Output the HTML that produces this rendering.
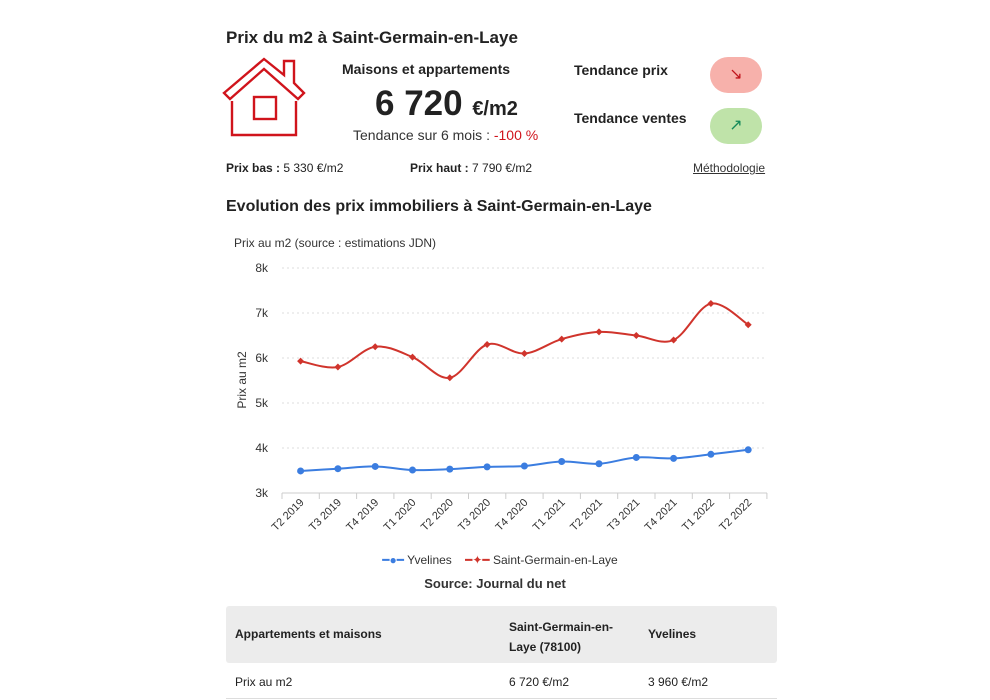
<!DOCTYPE html>
<html><head><meta charset="utf-8"><style>
body{margin:0;width:990px;height:700px;background:#fff;font-family:"Liberation Sans",sans-serif;color:#222;position:relative;overflow:hidden}
.a{position:absolute;white-space:nowrap}
.b{font-weight:bold}
</style></head><body>
<div class="a b" style="left:226px;top:28px;font-size:17px">Prix du m2 à Saint-Germain-en-Laye</div>
<svg class="a" style="left:222px;top:55px" width="86" height="84" viewBox="0 0 86 84">
<g fill="none" stroke="#d0141c" stroke-width="2.4">
<path d="M2 38 L42 4 L62 20 L62 6 L72 6 L72 28 L82 38 L76 44 L42 14 L8 44 Z"/>
<path d="M42 14 L42 14"/>
<path d="M10 46 L10 80 L74 80 L74 46"/>
<rect x="32" y="42" width="22" height="22"/>
</g></svg>
<div class="a b" style="left:342px;top:61px;font-size:14px">Maisons et appartements</div>
<div class="a b" style="left:375px;top:84px;font-size:35px;color:#222">6 720 <span style="font-size:20px">€/m2</span></div>
<div class="a" style="left:353px;top:127px;font-size:14px;color:#333">Tendance sur 6 mois : <span style="color:#d0141c">-100 %</span></div>
<div class="a b" style="left:574px;top:62px;font-size:14px">Tendance prix</div>
<div class="a b" style="left:574px;top:110px;font-size:14px">Tendance ventes</div>
<div class="a" style="left:710px;top:57px;width:52px;height:36px;border-radius:18px;background:#f7b1ab;color:#c0141c;text-align:center;line-height:36px;font-size:16px">↘</div>
<div class="a" style="left:710px;top:108px;width:52px;height:36px;border-radius:18px;background:#bfe3a9;color:#158a5a;text-align:center;line-height:36px;font-size:16px">↗</div>
<div class="a" style="left:226px;top:161px;font-size:12px"><b>Prix bas :</b> 5 330 €/m2</div>
<div class="a" style="left:410px;top:161px;font-size:12px"><b>Prix haut :</b> 7 790 €/m2</div>
<div class="a" style="left:693px;top:161px;font-size:12px;text-decoration:underline;color:#333">Méthodologie</div>
<div class="a b" style="left:226px;top:198px;font-size:16px">Evolution des prix immobiliers à Saint-Germain-en-Laye</div>
<div class="a" style="left:234px;top:236px;font-size:12px;color:#333">Prix au m2 (source : estimations JDN)</div>
<svg id="c" class="a" style="left:0;top:0" width="990" height="560"></svg>
<div class="a" style="left:0;top:553px;width:1000px;text-align:center;font-size:12px;color:#333"><span style="color:#3b7de0">━●━</span> Yvelines &nbsp;&nbsp; <span style="color:#d0342c">━✦━</span> Saint-Germain-en-Laye</div>
<div class="a b" style="left:0;top:576px;width:990px;text-align:center;font-size:13px;color:#333">Source: Journal du net</div>
<div class="a" style="left:226px;top:606px;width:551px;height:57px;background:#ececec;border-radius:3px"></div>
<div class="a b" style="left:235px;top:627px;font-size:12px">Appartements et maisons</div>
<div class="a b" style="left:509px;top:617px;font-size:12px;line-height:20px">Saint-Germain-en-<br>Laye (78100)</div>
<div class="a b" style="left:648px;top:627px;font-size:12px">Yvelines</div>
<div class="a" style="left:235px;top:675px;font-size:12px">Prix au m2</div>
<div class="a" style="left:509px;top:675px;font-size:12px">6 720 €/m2</div>
<div class="a" style="left:648px;top:675px;font-size:12px">3 960 €/m2</div>
<div class="a" style="left:226px;top:698px;width:551px;height:1px;background:#ddd"></div>
<script>
var s='',X=i=>300.6+i*37.3,Y=v=>493-(v-3000)*0.045;
for(var k=3;k<=8;k++){var y=Y(k*1000);if(k>3)s+='<line x1="282" x2="767" y1="'+y+'" y2="'+y+'" stroke="#ddd" stroke-dasharray="2,3"/>';s+='<text x="268" y="'+(y+4)+'" font-size="12" text-anchor="end" fill="#333" font-family="Liberation Sans">'+k+'k</text>';}
s+='<line x1="282" x2="767" y1="493" y2="493" stroke="#ccc"/>';
var L=['T2 2019','T3 2019','T4 2019','T1 2020','T2 2020','T3 2020','T4 2020','T1 2021','T2 2021','T3 2021','T4 2021','T1 2022','T2 2022'];
for(var i=0;i<=13;i++){var x=282+i*37.3;s+='<line x1="'+x+'" x2="'+x+'" y1="493" y2="499" stroke="#ccc"/>';}
L.forEach((l,i)=>{var x=X(i)+4,y=503;s+='<text transform="translate('+x+','+y+') rotate(-45)" font-size="11" text-anchor="end" fill="#333" font-family="Liberation Sans">'+l+'</text>';});
s+='<text transform="translate(246,380) rotate(-90)" font-size="12" text-anchor="middle" fill="#333" font-family="Liberation Sans">Prix au m2</text>';
function path(v){var p=v.map((a,i)=>[X(i),Y(a)]),d='M'+p[0];for(var i=0;i<p.length-1;i++){var p0=p[i-1]||p[i],p1=p[i],p2=p[i+1],p3=p[i+2]||p2;d+=' C'+(p1[0]+(p2[0]-p0[0])/6)+','+(p1[1]+(p2[1]-p0[1])/6)+' '+(p2[0]-(p3[0]-p1[0])/6)+','+(p2[1]-(p3[1]-p1[1])/6)+' '+p2;}return d;}
var R=[5930,5800,6250,6020,5560,6300,6100,6420,6580,6500,6400,7210,6740],B=[3490,3540,3590,3510,3530,3580,3600,3700,3650,3790,3770,3860,3960];
s+='<path d="'+path(B)+'" fill="none" stroke="#3b7de0" stroke-width="2"/>';
B.forEach((v,i)=>s+='<circle cx="'+X(i)+'" cy="'+Y(v)+'" r="3.5" fill="#3b7de0"/>');
s+='<path d="'+path(R)+'" fill="none" stroke="#d0342c" stroke-width="2"/>';
R.forEach((v,i)=>{var x=X(i),y=Y(v);s+='<path d="M'+(x-3.5)+','+y+' L'+x+','+(y-3.5)+' L'+(x+3.5)+','+y+' L'+x+','+(y+3.5)+'Z" fill="#d0342c"/>';});
document.getElementById('c').innerHTML=s;
</script>
</body></html>
